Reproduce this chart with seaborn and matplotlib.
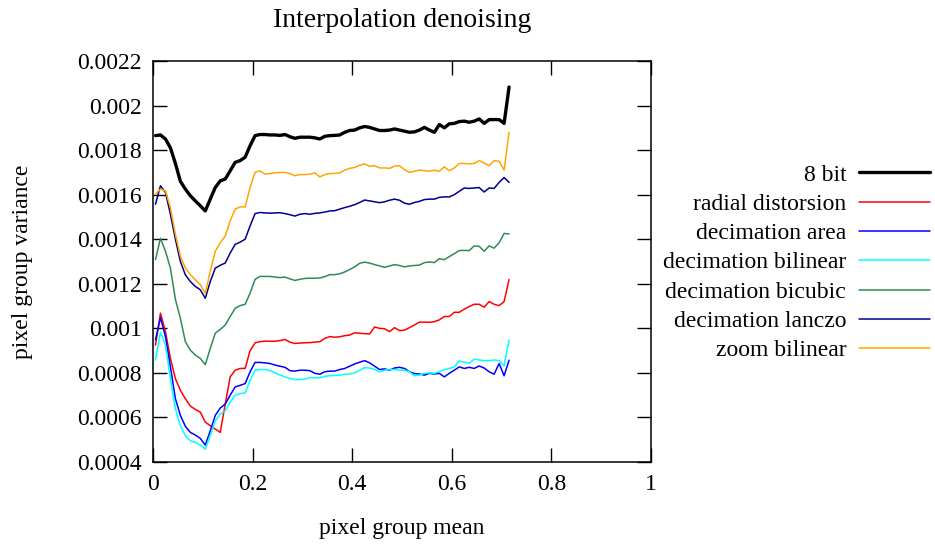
import numpy as np
import pandas as pd
import matplotlib
matplotlib.use("Agg")
import matplotlib.pyplot as plt
import seaborn as sns

# ---------------- data ----------------
x_mean = [round(0.005 + 0.01 * i, 3) for i in range(72)]

bit8 = [.001865, .001868, .00185, .00181, .00174, .00166, .001625, .001595, .001572, .00155,
        .001527, .00158, .001632, .001662, .00167, .001707, .001745, .001753, .001768, .00182,
        .001865, .00187, .00187, .001868, .001868, .001866, .00187, .00186, .001853, .001858,
        .001858, .001858, .001855, .00185, .001862, .001865, .001866, .001868, .00188, .001888,
        .00189, .0019, .001906, .001902, .001895, .001888, .001888, .00189, .001895, .00189,
        .001885, .00188, .001882, .00189, .001902, .00189, .00188, .001915, .0019, .001918,
        .00192, .001928, .00193, .001925, .00193, .00194, .00192, .001937, .001937, .001937,
        .00192, .002083]

radial = [.000925, .001068, .000985, .000865, .000774, .000722, .000684, .000651, .000636, .000624,
          .000579, .000563, .000548, .000533, .00066, .000782, .000812, .00082, .00082, .0009,
          .000935, .00094, .000943, .000942, .000942, .000945, .00095, .000938, .000932, .000934,
          .000935, .000936, .000938, .00094, .000955, .000963, .00096, .000962, .000967, .00097,
          .00098, .000978, .000976, .000975, .001006, .001, .000998, .000985, .001003, .00099,
          .000992, .001003, .001015, .001028, .001028, .001027, .00103, .001038, .001053, .001053,
          .001072, .001072, .001086, .001098, .001108, .001108, .001095, .00112, .001108, .001102,
          .00112, .001219]

dec_area = [.000948, .001048, .000963, .000827, .000684, .000609, .00056, .000533, .000521, .000506,
            .000476, .00054, .000609, .000642, .00066, .0007, .000737, .000744, .000752, .000805,
            .000847, .000847, .000845, .000842, .000835, .00083, .000825, .00081, .000808, .000812,
            .000812, .00081, .000798, .000794, .000805, .000808, .000808, .000815, .00082, .00083,
            .00084, .000848, .000855, .000845, .00083, .000815, .000818, .000812, .000822, .000825,
            .00082, .000805, .000797, .000795, .00079, .000798, .000795, .000798, .000782, .000798,
            .000812, .000827, .00082, .000825, .00082, .000831, .000822, .000805, .000794, .000842,
            .000787, .000857]

dec_bilinear = [.000857, .000982, .000925, .000774, .00064, .000563, .000518, .000495, .000488, .000476,
                .000458, .000518, .000585, .000615, .00063, .000668, .0007, .000707, .00071, .000767,
                .000812, .000815, .000815, .00081, .0008, .00079, .000782, .000775, .00077, .00077,
                .000772, .000779, .000778, .000778, .000785, .000787, .000788, .00079, .000794, .000795,
                .0008, .000812, .000823, .000822, .000815, .000805, .000812, .000815, .000815, .000812,
                .000812, .000805, .000787, .00079, .000798, .0008, .000798, .000805, .000815, .00082,
                .000827, .000853, .000848, .000843, .000862, .000858, .000855, .000855, .000858, .000855,
                .000831, .000948]

dec_bicubic = [.001309, .001404, .001346, .00127, .00113, .001045, .00094, .000902, .00088, .000865,
               .000837, .00091, .000978, .000995, .001015, .001053, .00109, .001102, .001108, .001158,
               .00122, .001233, .001233, .001233, .00123, .001228, .00123, .001222, .001215, .00122,
               .001224, .001225, .001225, .001226, .001232, .001241, .001241, .001245, .001253, .001264,
               .001276, .001292, .001297, .001293, .001286, .00128, .001274, .00128, .001286, .001282,
               .001276, .00128, .001282, .001284, .001295, .001298, .001295, .001313, .001308, .001322,
               .001335, .001349, .00135, .001349, .00137, .001368, .001346, .00137, .00136, .001384,
               .001426, .001424]

dec_lanczo = [.001557, .00164, .00161, .001512, .0014, .0013, .00124, .00121, .001188, .001173,
              .001135, .00121, .00127, .001283, .001293, .001338, .001377, .001387, .0014, .00146,
              .001515, .00152, .001518, .001517, .001518, .001519, .001515, .00151, .001504, .001512,
              .001515, .001512, .001516, .001518, .001522, .001527, .001528, .001535, .001542, .001548,
              .001555, .001565, .001576, .001572, .001568, .001564, .001568, .001575, .00158, .001575,
              .001562, .001557, .001565, .00157, .001578, .00158, .00158, .001588, .00159, .00159,
              .0016, .001615, .00163, .001628, .00163, .001632, .001612, .00163, .001628, .001655,
              .001677, .001655]

zoom_bilinear = [.001602, .001625, .001617, .001542, .001422, .001324, .001271, .001241, .001218, .001196,
                 .001158, .001256, .001346, .001384, .001414, .001482, .001535, .001545, .001545, .001632,
                 .0017, .001707, .001692, .001695, .001698, .0017, .0017, .001695, .001685, .00169,
                 .00169, .001692, .001698, .00168, .00169, .001695, .001695, .001698, .00171, .001718,
                 .001722, .001732, .001738, .001727, .00173, .00172, .00172, .001718, .001728, .00173,
                 .001712, .0017, .001705, .00171, .001708, .001705, .00171, .001705, .001725, .001707,
                 .00172, .00174, .00174, .001738, .00174, .001753, .001742, .00173, .001753, .00175,
                 .00171, .00188]

series_names = ["8 bit", "radial distorsion", "decimation area", "decimation bilinear",
                "decimation bicubic", "decimation lanczo", "zoom bilinear"]
series_values = [bit8, radial, dec_area, dec_bilinear, dec_bicubic, dec_lanczo, zoom_bilinear]
series_colors = ["#000000", "#ff0000", "#0000ff", "#00ffff", "#2e8b57", "#00008b", "#ffa500"]
series_widths = [2.4, 1.1, 1.1, 1.1, 1.1, 1.1, 1.1]

x_ticks = [0, 0.2, 0.4, 0.6, 0.8, 1.0]
x_tick_labels = ["0", "0.2", "0.4", "0.6", "0.8", "1"]
y_ticks = [0.0004, 0.0006, 0.0008, 0.0010, 0.0012, 0.0014, 0.0016, 0.0018, 0.0020, 0.0022]
y_tick_labels = ["0.0004", "0.0006", "0.0008", "0.001", "0.0012", "0.0014", "0.0016",
                 "0.0018", "0.002", "0.0022"]

# ---------------- plot ----------------
sns.set_style("ticks")
plt.rcParams["font.family"] = ["Liberation Serif", "DejaVu Serif"]
plt.rcParams["font.size"] = 17
plt.rcParams["text.color"] = "black"
plt.rcParams["axes.labelcolor"] = "black"
plt.rcParams["xtick.color"] = "black"
plt.rcParams["ytick.color"] = "black"

fig = plt.figure(figsize=(9.35, 5.46), dpi=100)
ax = fig.add_axes([153 / 935, 1 - 462 / 546, 498 / 935, 401 / 546])

for name, vals, col, lw in zip(series_names, series_values, series_colors, series_widths):
    df = pd.DataFrame({"mean": x_mean, "var": vals})
    sns.lineplot(data=df, x="mean", y="var", color=col, linewidth=lw, label=name, ax=ax)

ax.set_xlim(0, 1)
ax.set_ylim(0.0004, 0.0022)
ax.set_xticks(x_ticks)
ax.set_xticklabels(x_tick_labels)
ax.set_yticks(y_ticks)
ax.set_yticklabels(y_tick_labels)
ax.tick_params(direction="in", length=10, width=1, top=True, right=True,
               labelsize=17, colors="black")
ax.tick_params(axis="y", pad=8)
ax.tick_params(axis="x", pad=9)
for s in ax.spines.values():
    s.set_visible(True)
    s.set_linewidth(1.1)
    s.set_color("black")

ax.set_xlabel("pixel group mean", fontsize=17, color="black")
ax.set_ylabel("pixel group variance", fontsize=17, color="black")
ax.xaxis.set_label_coords(0.5, -0.165)
ax.xaxis.label.set_va("center")
ax.yaxis.set_label_coords(-0.263, 0.5)
ax.yaxis.label.set_va("center")
ax.set_title("Interpolation denoising", fontsize=20, y=1.10, va="center", pad=0,
             color="black")

leg = ax.legend(loc="upper right", bbox_to_anchor=(930 / 935, 1 - 164 / 546),
                bbox_transform=fig.transFigure, frameon=False, markerfirst=False,
                fontsize=17, handlelength=3.0, handletextpad=0.55, labelspacing=0.33,
                borderpad=0, borderaxespad=0, labelcolor="black")

fig.savefig("out.png", dpi=100, facecolor="white")
